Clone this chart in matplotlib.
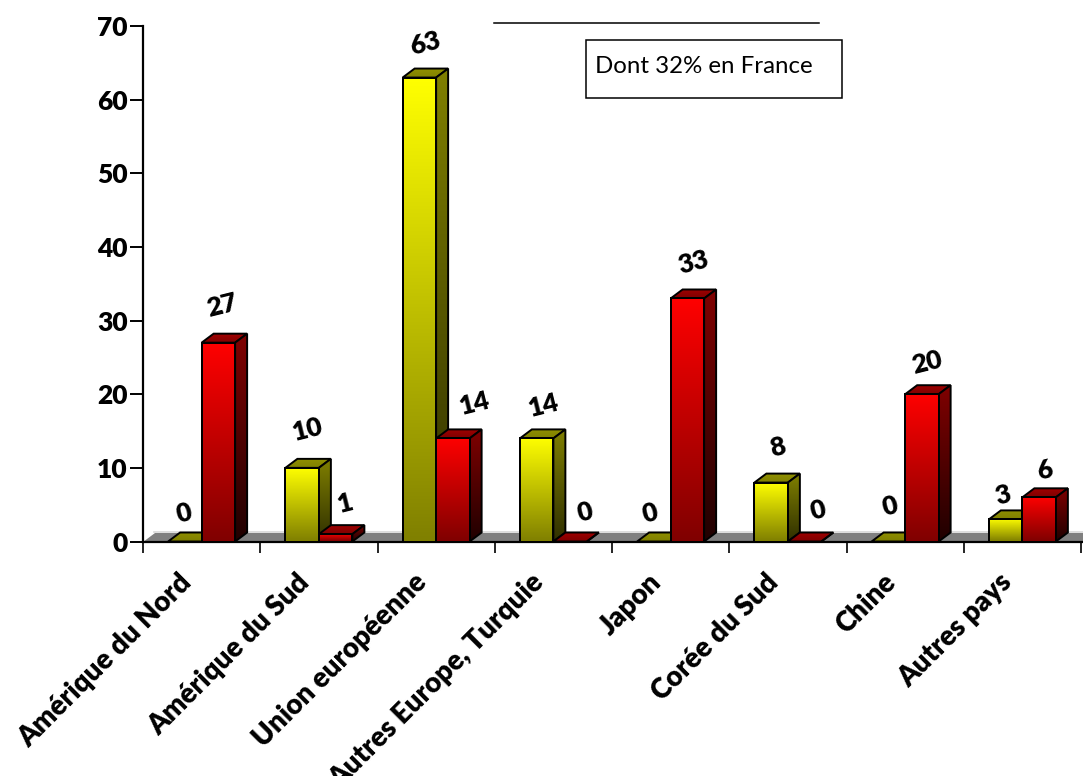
import numpy as np
import matplotlib
matplotlib.use("Agg")
import matplotlib.pyplot as plt
from matplotlib.colors import to_rgb
from matplotlib.lines import Line2D
from matplotlib.patches import Polygon, Rectangle
from matplotlib.transforms import offset_copy

categories = ["Amérique du Nord", "Amérique du Sud", "Union européenne",
              "Autres Europe, Turquie", "Japon", "Corée du Sud", "Chine", "Autres pays"]
yellow_values = [0, 10, 63, 14, 0, 8, 0, 3]
red_values = [27, 1, 14, 0, 33, 0, 20, 6]
yticks = [0, 10, 20, 30, 40, 50, 60, 70]
note_text = "Dont 32% en France"

# label nudges in pixels (right, up), relative to each bar's top centre
yellow_nudges = [(-1, 28), (6, 38), (6, 34), (7, 33), (-4, 28), (7, 35), (2, 35), (-3, 24)]
red_nudges = [(4, 37), (10, 31), (22, 35), (15, 29), (6, 36), (13, 31), (5, 32), (6, 27)]

W, H = 1083, 776
fig = plt.figure(figsize=(W / 100, H / 100), dpi=100, facecolor="white")
L, R, T, B = 143, 1081, 26, 541.5
ax = fig.add_axes([L / W, 1 - B / H, (R - L) / W, (B - T) / H])
ax.set_xlim(0, 8)
ax.set_ylim(0, 70)
ax.set_autoscale_on(False)
ax.patch.set_alpha(0)

PX_X = 8 / (R - L)
PX_Y = 70 / (B - T)
DX, DY = 12 * PX_X, 9 * PX_Y
BW = 33.5 * PX_X
EDGE = 1.4


def gradient(poly_xy, y_bottom, y_top, col_top, col_bottom, z):
    xs = [p[0] for p in poly_xy]
    c = np.linspace(0, 1, 128)[:, None, None]
    img = (1 - c) * np.array(to_rgb(col_top))[None, None, :] + c * np.array(to_rgb(col_bottom))[None, None, :]
    im = ax.imshow(img, extent=[min(xs), max(xs), y_bottom, y_top], origin="upper",
                   aspect="auto", interpolation="bilinear", zorder=z)
    clip = Polygon(poly_xy, closed=True, transform=ax.transData, facecolor="none", edgecolor="none")
    ax.add_patch(clip)
    clip.set_clip_on(False)
    im.set_clip_path(clip)
    ax.add_patch(Polygon(poly_xy, closed=True, facecolor="none", edgecolor="black",
                         linewidth=EDGE, zorder=z + 0.1, clip_on=False, joinstyle="miter"))


def bar3d(x, v, front, front_dark, side, side_dark, top_back, top_front, z):
    """x = left edge in category units, v = height."""
    xr = x + BW
    # top face
    gradient([(x, v), (xr, v), (xr + DX, v + DY), (x + DX, v + DY)], v, v + DY, top_back, top_front, z)
    # side face
    gradient([(xr, 0), (xr + DX, DY), (xr + DX, v + DY), (xr, v)], 0, v + DY, side, side_dark, z + 0.2)
    # front face
    if v > 0:
        gradient([(x, 0), (xr, 0), (xr, v), (x, v)], 0, v, front, front_dark, z + 0.4)
    ax.bar(x, v, width=BW, align="edge", facecolor="none", edgecolor="black",
           linewidth=EDGE, zorder=z + 0.6)


# floor
ax.add_patch(Polygon([(0, 0), (8.1, 0), (8.1, DY), (DX, DY)], closed=True, facecolor="#808080",
                     edgecolor="none", zorder=1, clip_on=False))
ax.add_line(Line2D([DX * 0.9, 8.1], [DY + 0.12, DY + 0.12], color="#d8d8d8", linewidth=1.2, zorder=1, clip_on=False))

z = 5
for i, (yv, rv) in enumerate(zip(yellow_values, red_values)):
    xc = i + 0.5
    bar3d(xc - BW, yv, "#ffff00", "#808000", "#808000", "#303000", "#909000", "#808000", z)
    z += 1
    bar3d(xc, rv, "#ff0000", "#800000", "#800000", "#200000", "#a00000", "#800000", z)
    z += 1

for i, (yv, rv) in enumerate(zip(yellow_values, red_values)):
    xc = i + 0.5
    for xp, v, (nx, ny) in ((xc - BW / 2, yv, yellow_nudges[i]), (xc + BW / 2, rv, red_nudges[i])):
        ax.annotate(str(v), (xp, v), xytext=(nx * 0.72, ny * 0.72), textcoords="offset points",
                    ha="center", va="center", rotation=14, rotation_mode="anchor",
                    family="Lato", weight=800, fontsize=19, color="black", zorder=100,
                    annotation_clip=False)

for side in ("top", "right", "bottom"):
    ax.spines[side].set_visible(False)
ax.spines["left"].set_linewidth(1.6)
ax.spines["left"].set_zorder(50)
ax.add_line(Line2D([0, 8.1], [0, 0], color="black", linewidth=1.6, zorder=3, clip_on=False))

ax.set_yticks(yticks)
ax.tick_params(axis="y", length=9.5, width=1.4, pad=1.5)
for lab in ax.get_yticklabels():
    lab.set(family="Lato", weight=800, fontsize=19)

ax.set_xticks(np.arange(0, 9))
ax.set_xticklabels([""] * 9)
ax.tick_params(axis="x", length=8, width=1.2)

label_tf = offset_copy(ax.transData, fig=fig, x=-10, y=-26.5, units="points")
for i, name in enumerate(categories):
    ax.text(i + 0.5, 0, name, transform=label_tf, rotation=45, rotation_mode="anchor",
            ha="right", va="center", family="Lato", weight=800, fontsize=20, clip_on=False)

# annotation shapes
fig.add_artist(Line2D([494 / W, 819 / W], [1 - 22.5 / H, 1 - 22.5 / H], color="black", linewidth=1.1))
fig.add_artist(Rectangle((586 / W, 1 - 98 / H), 256 / W, 58 / H, facecolor="white",
                         edgecolor="black", linewidth=1.1, transform=fig.transFigure))
fig.text(595 / W, 1 - 66.5 / H, note_text, family="Lato", fontsize=17.3, ha="left", va="center", color="black")

fig.savefig("out.png", dpi=100)
